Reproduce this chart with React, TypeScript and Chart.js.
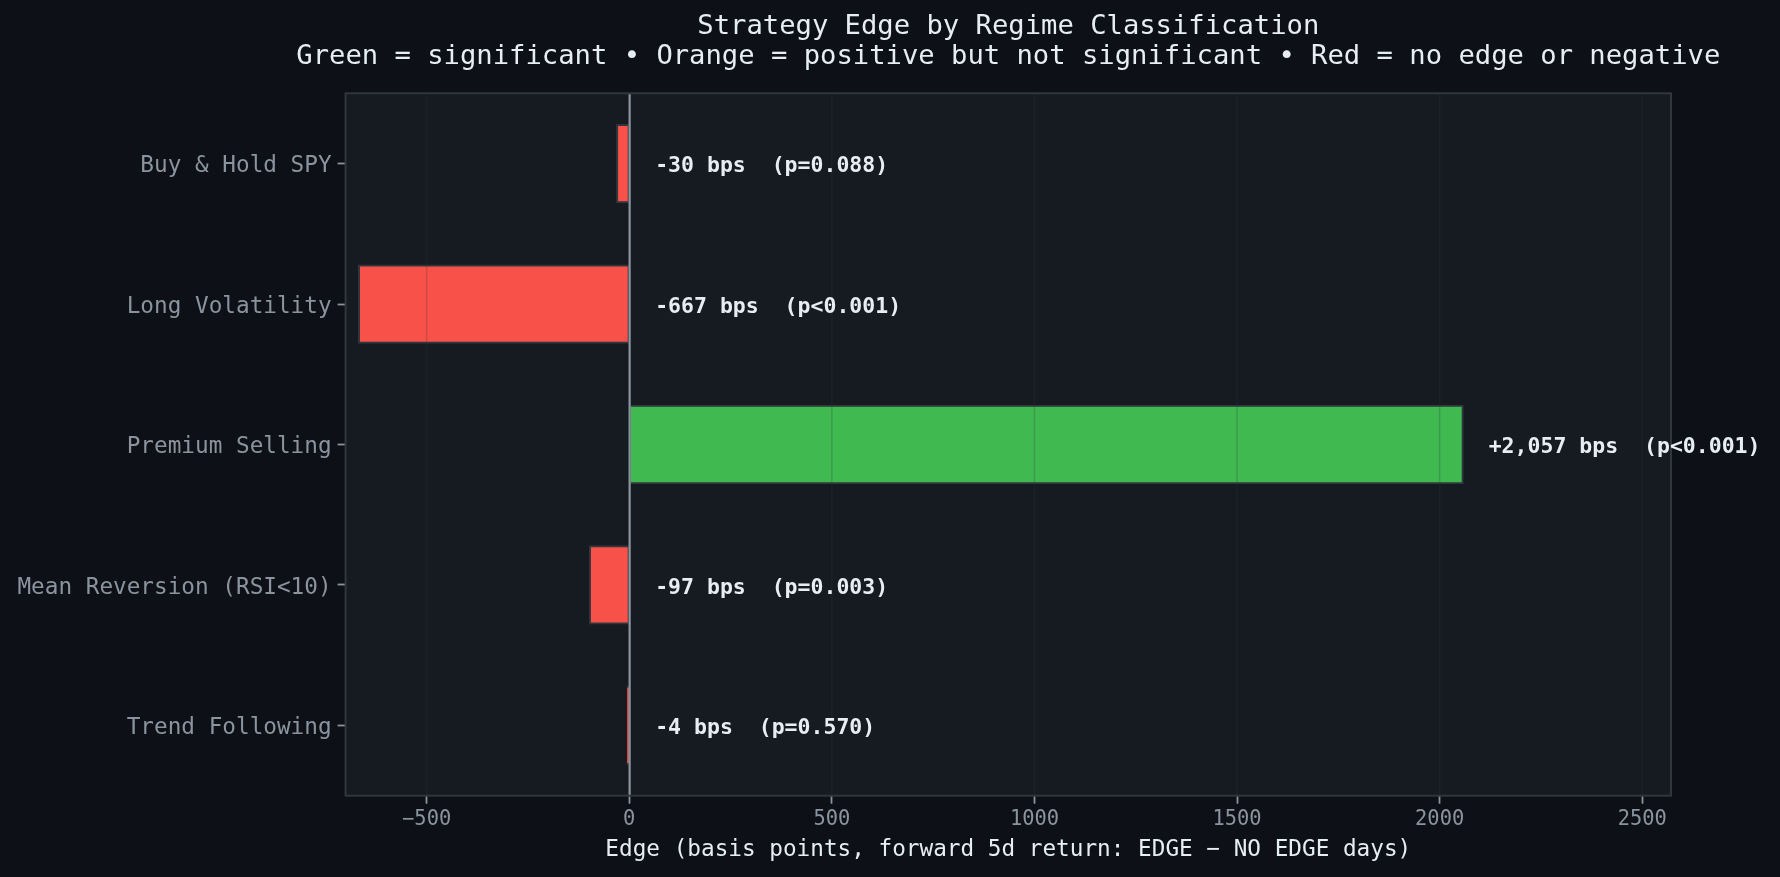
import React, { useEffect, useRef } from "react";
import { Chart, registerables } from "chart.js";

Chart.register(...registerables);

// ---------- data ----------
const CATEGORIES = [
  "Buy & Hold SPY",
  "Long Volatility",
  "Premium Selling",
  "Mean Reversion (RSI<10)",
  "Trend Following",
];
const EDGE_BPS = [-30, -667, 2057, -97, -4];
const P_LABELS = ["p=0.088", "p<0.001", "p<0.001", "p=0.003", "p=0.570"];
const BAR_COLORS = ["#f85149", "#f85149", "#3fb950", "#f85149", "#f85149"];
const X_TICKS = [-500, 0, 500, 1000, 1500, 2000, 2500];
const X_MIN = -700;
const X_MAX = 2571;
const LABEL_OFFSET = 64;

const TITLE_LINES = [
  "Strategy Edge by Regime Classification",
  "Green = significant • Orange = positive but not significant • Red = no edge or negative",
];
const X_TITLE = "Edge (basis points, forward 5d return: EDGE − NO EDGE days)";

const FONT = "'DejaVu Sans Mono', monospace";
const FIG_BG = "#0d1117";
const AX_BG = "#161b22";
const EDGE_COLOR = "#30363d";
const TICK_COLOR = "#8b949e";
const TEXT_COLOR = "#e6edf3";

function fmtBps(v: number): string {
  const s = Math.abs(v).toLocaleString("en-US");
  return (v > 0 ? "+" : v < 0 ? "-" : "") + s;
}

function fmtTick(v: number): string {
  return v < 0 ? "\u2212" + String(Math.abs(v)) : String(v);
}

const bgPlugin = {
  id: "bgPlugin",
  beforeDraw(chart: any) {
    const { ctx, chartArea } = chart;
    ctx.save();
    ctx.fillStyle = FIG_BG;
    ctx.fillRect(0, 0, chart.width, chart.height);
    ctx.fillStyle = AX_BG;
    ctx.fillRect(chartArea.left, chartArea.top, chartArea.right - chartArea.left, chartArea.bottom - chartArea.top);
    // title
    const cx = (chartArea.left + chartArea.right) / 2;
    ctx.fillStyle = TEXT_COLOR;
    ctx.font = `normal 27.2px ${FONT}`;
    ctx.textAlign = "center";
    ctx.textBaseline = "middle";
    ctx.fillText(TITLE_LINES[0], cx, 27);
    ctx.fillText(TITLE_LINES[1], cx, 57);
    ctx.restore();
  },
};

const overlayPlugin = {
  id: "overlayPlugin",
  afterDatasetsDraw(chart: any) {
    const { ctx, chartArea } = chart;
    const xs = chart.scales.x;
    const ys = chart.scales.y;
    ctx.save();
    // grid lines over bars
    ctx.strokeStyle = "rgba(48,54,61,0.22)";
    ctx.lineWidth = 1.5;
    X_TICKS.forEach((t) => {
      const px = xs.getPixelForValue(t);
      ctx.beginPath();
      ctx.moveTo(px, chartArea.top);
      ctx.lineTo(px, chartArea.bottom);
      ctx.stroke();
    });
    // zero line
    const z = xs.getPixelForValue(0);
    ctx.strokeStyle = TICK_COLOR;
    ctx.lineWidth = 2.2;
    ctx.beginPath();
    ctx.moveTo(z + 0.4, chartArea.top);
    ctx.lineTo(z + 0.4, chartArea.bottom);
    ctx.stroke();
    // spines
    ctx.strokeStyle = EDGE_COLOR;
    ctx.lineWidth = 2;
    ctx.strokeRect(chartArea.left, chartArea.top, chartArea.right - chartArea.left, chartArea.bottom - chartArea.top);
    // bar labels
    ctx.fillStyle = TEXT_COLOR;
    ctx.font = `bold 21.5px ${FONT}`;
    ctx.textAlign = "left";
    ctx.textBaseline = "middle";
    EDGE_BPS.forEach((v, i) => {
      const px = xs.getPixelForValue(Math.max(v, 0) + LABEL_OFFSET);
      const py = ys.getPixelForValue(i) + 3;
      ctx.fillText(`${fmtBps(v)} bps  (${P_LABELS[i]})`, px, py);
    });
    ctx.restore();
  },
};

export default function App() {
  const canvasRef = useRef<HTMLCanvasElement | null>(null);

  useEffect(() => {
    document.body.style.margin = "0";
    document.body.style.background = FIG_BG;
    const canvas = canvasRef.current;
    if (!canvas) return;
    const chart = new Chart(canvas, {
      type: "bar",
      data: {
        labels: CATEGORIES,
        datasets: [
          {
            data: EDGE_BPS,
            backgroundColor: BAR_COLORS,
            borderColor: EDGE_COLOR,
            borderWidth: 2,
            borderSkipped: false,
            inflateAmount: 1,
            barPercentage: 0.55,
            categoryPercentage: 1,
          },
        ],
      },
      options: {
        indexAxis: "y",
        responsive: false,
        animation: false,
        devicePixelRatio: 1,
        layout: { padding: { left: 0, right: 109, top: 93.3, bottom: 0 } },
        plugins: {
          legend: { display: false },
          tooltip: { enabled: false },
          title: { display: false },
        },
        scales: {
          x: {
            type: "linear",
            min: X_MIN,
            max: X_MAX,
            afterBuildTicks(scale: any) {
              scale.ticks = X_TICKS.map((v) => ({ value: v }));
            },
            afterFit(scale: any) {
              scale.height = 81.3;
            },
            border: { display: false },
            grid: {
              drawOnChartArea: false,
              drawTicks: true,
              tickLength: 8,
              tickColor: TICK_COLOR,
              tickWidth: 1.8,
            },
            ticks: {
              color: TICK_COLOR,
              font: { family: FONT, size: 20.4 },
              padding: 4,
              maxRotation: 0,
              autoSkip: false,
              callback: (v: any) => fmtTick(Number(v)),
            },
            title: {
              display: true,
              text: X_TITLE,
              color: TEXT_COLOR,
              font: { family: FONT, size: 22.7 },
              padding: { top: 4, bottom: 13.4 },
            },
          },
          y: {
            type: "category",
            afterFit(scale: any) {
              scale.width = 345.6;
            },
            border: { display: false },
            grid: {
              offset: false,
              drawOnChartArea: false,
              drawTicks: true,
              tickLength: 8,
              tickColor: TICK_COLOR,
              tickWidth: 1.8,
            },
            ticks: {
              color: TICK_COLOR,
              font: { family: FONT, size: 22.7 },
              padding: 6,
              labelOffset: 3,
              autoSkip: false,
            },
          },
        },
      },
      plugins: [bgPlugin, overlayPlugin],
    } as any);
    return () => chart.destroy();
  }, []);

  return (
    <div style={{ position: "fixed", left: 0, top: 0, width: 1780, height: 877, background: FIG_BG }}>
      <canvas ref={canvasRef} width={1780} height={877} style={{ display: "block", width: 1780, height: 877 }} />
    </div>
  );
}
